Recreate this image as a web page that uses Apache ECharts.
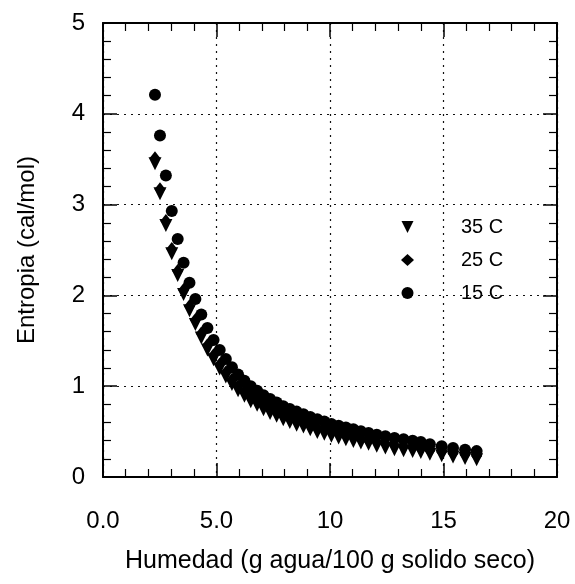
<!DOCTYPE html>
<html>
<head>
<meta charset="utf-8">
<script src="https://cdn.jsdelivr.net/npm/echarts@6/dist/echarts.min.js"></script>
<style>
  html, body { margin: 0; padding: 0; background: #fff; }
  #chart { width: 575px; height: 584px; }
</style>
</head>
<body>
<div id="chart"></div>
<script>
// Entropia diferencial vs humedad, tres temperaturas
const moisture = [2.29, 2.51, 2.77, 3.03, 3.29, 3.55, 3.81, 4.07, 4.33, 4.60, 4.87, 5.14, 5.41, 5.68, 5.95,
  6.23, 6.51, 6.79, 7.07, 7.36, 7.65, 7.94, 8.23, 8.53, 8.83, 9.13, 9.44, 9.75, 10.06, 10.38,
  10.70, 11.03, 11.36, 11.70, 12.06, 12.44, 12.84, 13.24, 13.64, 14.00, 14.40, 14.92, 15.42, 15.95, 16.46]

const entropy15 = [4.21, 3.76, 3.32, 2.93, 2.62, 2.36, 2.14, 1.96, 1.79, 1.64, 1.51, 1.40, 1.30, 1.21, 1.13,
  1.06, 1.00, 0.95, 0.90, 0.86, 0.82, 0.78, 0.75, 0.72, 0.69, 0.66, 0.635, 0.61, 0.585, 0.565,
  0.545, 0.525, 0.505, 0.485, 0.465, 0.45, 0.43, 0.415, 0.40, 0.385, 0.36, 0.34, 0.32, 0.30, 0.285]

const entropy25 = [3.51, 3.17, 2.82, 2.51, 2.27, 2.06, 1.88, 1.73, 1.58, 1.45, 1.34, 1.24, 1.15, 1.07, 1.00,
  0.94, 0.88, 0.84, 0.79, 0.75, 0.72, 0.68, 0.65, 0.62, 0.60, 0.57, 0.54, 0.52, 0.50, 0.48,
  0.46, 0.44, 0.42, 0.40, 0.39, 0.37, 0.35, 0.34, 0.33, 0.31, 0.29, 0.275, 0.26, 0.245, 0.23]

const entropy35 = [3.45, 3.12, 2.77, 2.46, 2.22, 2.01, 1.83, 1.68, 1.53, 1.40, 1.29, 1.19, 1.10, 1.02, 0.95,
  0.89, 0.83, 0.79, 0.74, 0.70, 0.67, 0.63, 0.60, 0.57, 0.55, 0.52, 0.49, 0.47, 0.45, 0.43,
  0.41, 0.39, 0.375, 0.36, 0.34, 0.32, 0.30, 0.29, 0.28, 0.27, 0.25, 0.235, 0.22, 0.205, 0.19]

const xTickLabels = ['0.0', '5.0', '10', '15', '20']
const yTickLabels = ['0', '1', '2', '3', '4', '5']

const FONT = "'Liberation Sans', Arial, sans-serif"
const INK = '#000'

function pairs(ys) {
  return moisture.map((x, i) => [x, ys[i]])
}

// shared frame look: solid box, ticks pointing into the plot
const frameAxis = {
  axisLine: { show: true, onZero: false, lineStyle: { color: INK, width: 2 } },
  axisTick: { show: true, inside: true, length: 14, lineStyle: { color: INK, width: 1.5 } },
  minorTick: { show: true, splitNumber: 5, length: 8, lineStyle: { color: INK, width: 1.2 } },
  splitLine: { show: false },
  axisLabel: { show: false },
}

const gridDots = { show: true, lineStyle: { color: '#111', width: 1.2, type: [2, 5] } }

const option = {
  animation: false,
  textStyle: { fontFamily: FONT, color: INK },
  grid: { left: 103, right: 18, top: 23, bottom: 107 },
  legend: {
    orient: 'vertical',
    left: 396,
    top: 212,
    itemWidth: 13,
    itemHeight: 12,
    itemGap: 13,
    data: ['35 C', '25 C', '15 C'],
    textStyle: { fontSize: 20, color: INK, fontFamily: FONT, padding: [0, 0, 0, 42] },
  },
  xAxis: [
    {
      type: 'value', min: 0, max: 20, interval: 5,
      ...frameAxis,
      splitLine: gridDots,
      name: 'Humedad (g agua/100 g solido seco)',
      nameLocation: 'middle',
      nameGap: 72,
      nameTextStyle: { fontSize: 25, color: INK, fontFamily: FONT },
      axisLabel: {
        show: true, margin: 32, fontSize: 24, color: INK, fontFamily: FONT,
        formatter: (v) => xTickLabels[Math.round(v / 5)],
      },
    },
    { type: 'value', position: 'top', min: 0, max: 20, interval: 5, ...frameAxis },
  ],
  yAxis: [
    {
      type: 'value', min: 0, max: 5, interval: 1,
      ...frameAxis,
      splitLine: gridDots,
      name: 'Entropia (cal/mol)',
      nameLocation: 'middle',
      nameGap: 64,
      nameTextStyle: { fontSize: 24, color: INK, fontFamily: FONT },
      axisLabel: {
        show: true, margin: 18, fontSize: 24, color: INK, fontFamily: FONT,
        formatter: (v) => yTickLabels[Math.round(v)],
      },
    },
    { type: 'value', position: 'right', min: 0, max: 5, interval: 1, ...frameAxis },
  ],
  series: [
    {
      name: '15 C', type: 'scatter', symbol: 'circle', symbolSize: 12,
      itemStyle: { color: INK, opacity: 1 },
      data: pairs(entropy15),
    },
    {
      name: '25 C', type: 'scatter', symbol: 'diamond', symbolSize: [11, 14],
      itemStyle: { color: INK, opacity: 1 },
      data: pairs(entropy25),
    },
    {
      name: '35 C', type: 'scatter', symbol: 'path://M0,0L10,0L5,10Z', symbolSize: 13,
      itemStyle: { color: INK, opacity: 1 },
      data: pairs(entropy35),
    },
  ],
}

const chart = echarts.init(document.getElementById('chart'), null, { renderer: 'canvas' })
chart.setOption(option)
</script>
</body>
</html>
